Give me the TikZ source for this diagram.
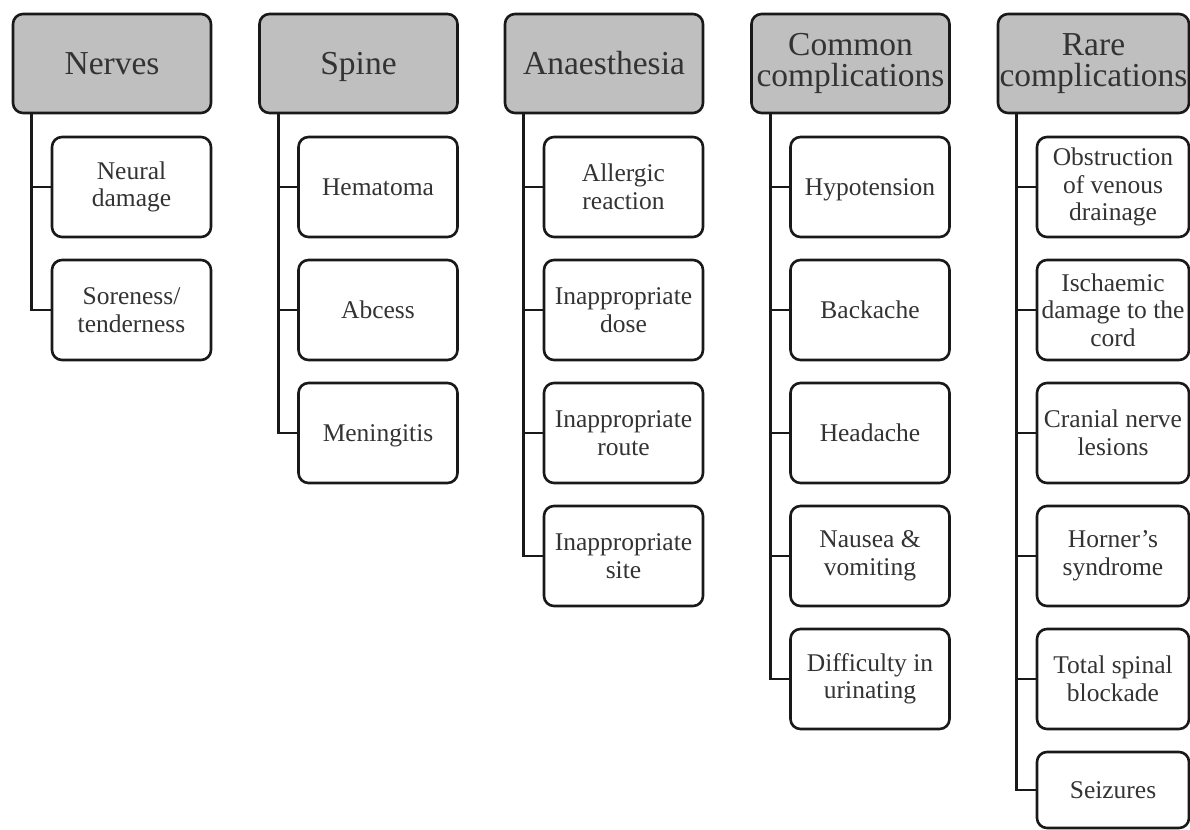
\documentclass[tikz,border=0pt]{standalone}
\usepackage{fontspec}
\setmainfont{Liberation Serif}
\newcommand{\ph}{\rule[-0.216em]{0pt}{1.107em}}
\begin{document}
\begin{tikzpicture}[x=1pt,y=-1pt,
  box/.style={draw=black!90, line width=2.6pt, rounded corners=10pt, inner sep=0pt, align=center, text=black!80},
  hdr/.style={box, fill=black!25, minimum width=198pt, minimum height=99pt, font=\fontsize{33.5}{31}\selectfont},
  item/.style={box, fill=white, minimum width=159pt, minimum height=100pt, font=\fontsize{25.5}{27.5}\selectfont},
  link/.style={line width=2.6pt, draw=black!90}]
\useasboundingbox (0,0) rectangle (1190,829);
% headers
\node[hdr] (h1) at (112,63.5) {\ph Nerves};
\node[hdr] (h2) at (358.5,63.5) {\ph Spine};
\node[hdr] (h3) at (604,63.5) {\ph Anaesthesia};
\node[hdr] (h4) at (850.5,63.5) {Common\\complications};
\node[hdr, minimum width=191pt] (h5) at (1093.5,63.5) {Rare\\complications};
% column 1
\node[item] (a1) at (131.5,187) {Neural\\damage};
\node[item] (a2) at (131.5,310) {Soreness/\\tenderness};
% column 2
\node[item] (b1) at (378,187) {\ph Hematoma};
\node[item] (b2) at (378,310) {\ph Abcess};
\node[item] (b3) at (378,433) {\ph Meningitis};
% column 3
\node[item] (c1) at (623.5,187) {Allergic\\reaction};
\node[item] (c2) at (623.5,310) {Inappropriate\\dose};
\node[item] (c3) at (623.5,433) {Inappropriate\\route};
\node[item] (c4) at (623.5,556) {Inappropriate\\site};
% column 4
\node[item] (d1) at (870,187) {\ph Hypotension};
\node[item] (d2) at (870,310) {\ph Backache};
\node[item] (d3) at (870,433) {\ph Headache};
\node[item] (d4) at (870,556) {Nausea \&\\vomiting};
\node[item] (d5) at (870,679) {Difficulty in\\urinating};
% column 5
\node[item, minimum width=152pt] (e1) at (1113,187) {Obstruction\\of venous\\drainage};
\node[item, minimum width=152pt] (e2) at (1113,310) {Ischaemic\\damage to the\\cord};
\node[item, minimum width=152pt] (e3) at (1113,433) {Cranial nerve\\lesions};
\node[item, minimum width=152pt] (e4) at (1113,556) {Horner’s\\syndrome};
\node[item, minimum width=152pt] (e5) at (1113,679) {Total spinal\\blockade};
\node[item, minimum width=152pt, minimum height=76pt] (e6) at (1113,790) {\ph Seizures};
% connectors
\foreach \h/\list in {h1/{a1,a2}, h2/{b1,b2,b3}, h3/{c1,c2,c3,c4}, h4/{d1,d2,d3,d4,d5}, h5/{e1,e2,e3,e4,e5,e6}}{
  \foreach \c in \list {
    \draw[link] ([xshift=20pt]\h.south west) |- (\c.west);
  }
}
\end{tikzpicture}
\end{document}
